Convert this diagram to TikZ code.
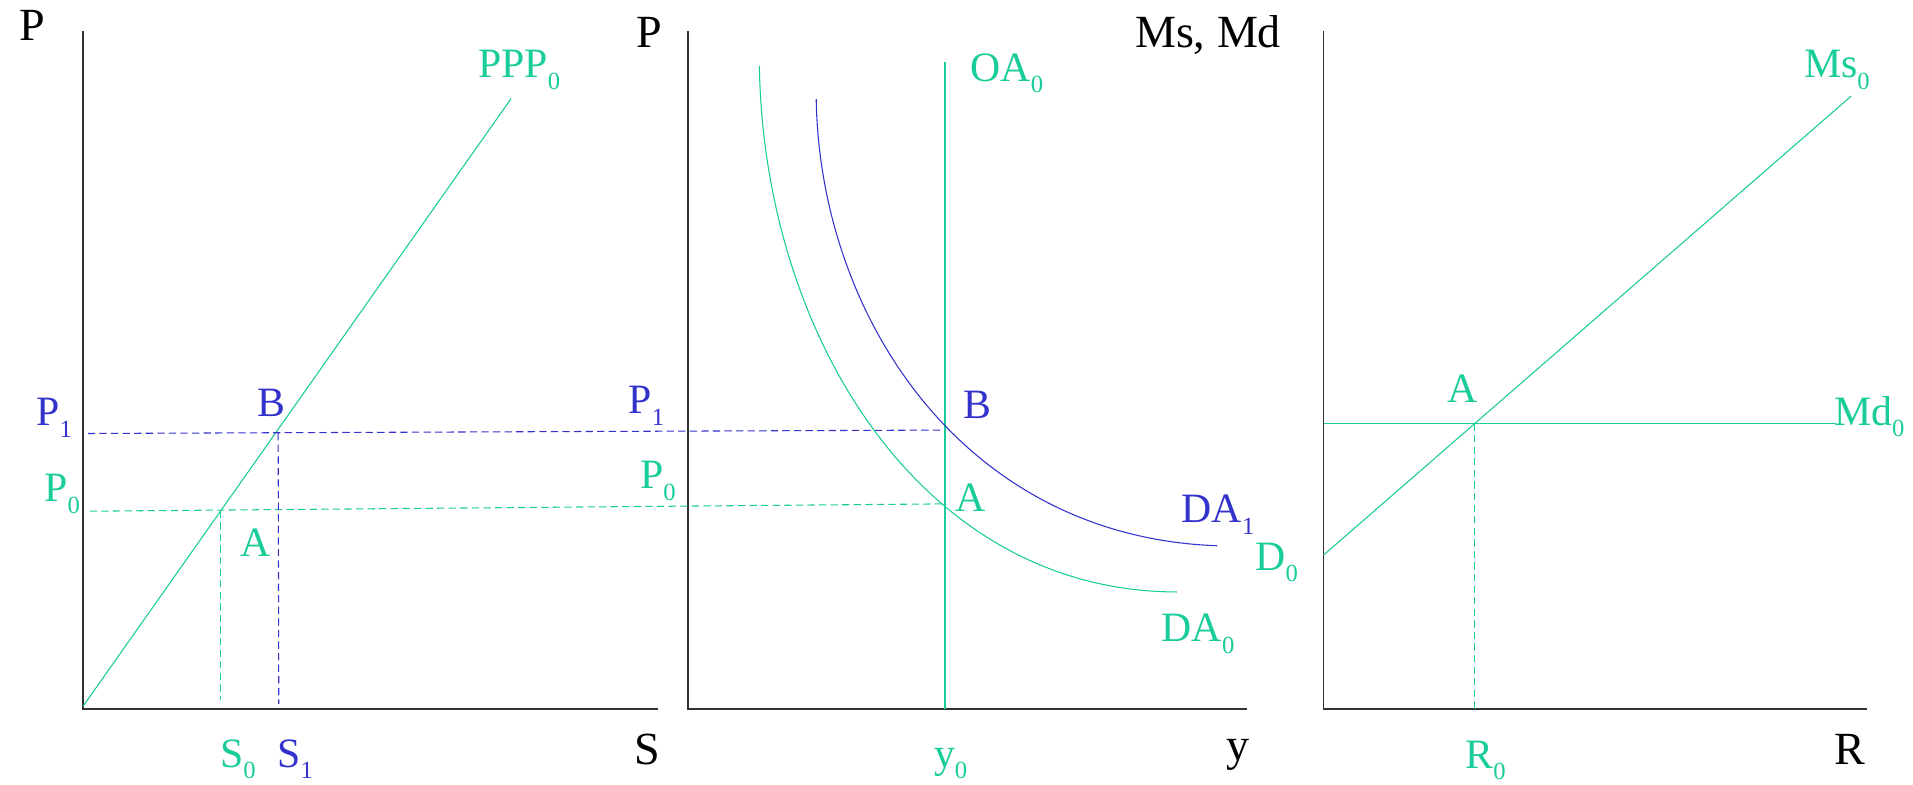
\documentclass[tikz,border=0pt]{standalone}
\usepackage{fontspec}
\setmainfont{Liberation Serif}
\definecolor{ecgreen}{RGB}{26,204,153}
\definecolor{ecblue}{RGB}{51,51,204}
\definecolor{ecaxis}{RGB}{51,51,51}
\newcommand{\lowidx}[1]{\raisebox{-5.4pt}{\fontsize{11.5}{12}\selectfont #1}}

\begin{document}
\begin{tikzpicture}[
  x=0.02cm, y=-0.02cm,
  axisline/.style={draw=ecaxis, line width=0.7pt},
  curve/.style={line width=0.5pt},
  guide/.style={line width=0.5pt, dash pattern=on 3.4pt off 2pt},
  lbl/.style={anchor=base west, inner sep=0pt, font=\fontsize{19.5}{23}\selectfont},
  axlbl/.style={anchor=base west, inner sep=0pt, font=\fontsize{21.5}{25}\selectfont, text=black}
]
\useasboundingbox (0,0) rectangle (1568,643);

% axes
\coordinate (t1) at (68,25);   \coordinate (o1) at (68,581);   \coordinate (r1) at (539,581);
\coordinate (t2) at (564,25);  \coordinate (o2) at (564,581);  \coordinate (r2) at (1022,581);
\coordinate (t3) at (1085,25); \coordinate (o3) at (1085,581); \coordinate (r3) at (1530,581);
\draw[axisline] (t1) -- (o1) -- (r1);
\draw[axisline] (t2) -- (o2) -- (r2);
\draw[axisline] (t3) -- (o3) -- (r3);

\node[axlbl] (pax1) at (16,33)   {P};
\node[axlbl] (sax)  at (520,627) {S};
\node[axlbl] (pax2) at (521,39)  {P};
\node[axlbl] (yax)  at (1005,623) {y};
\node[axlbl] (mmax) at (930,39)  {Ms, Md};
\node[axlbl] (rax)  at (1503,627) {R};

% left panel
\coordinate (ppplo) at (68,579);
\coordinate (ppphi) at (419,80.7);
\draw[curve, ecgreen] (ppplo) -- (ppphi);

\coordinate (p1l) at (72,355.3);
\coordinate (p0l) at (73.6,419);
\coordinate (bmid) at (774.7,352.5);
\coordinate (amid) at (774.7,413);
\draw[guide, ecblue]  (p1l) -- (bmid);
\draw[guide, ecgreen] (p0l) -- (amid);

\coordinate (s0t) at (180.7,418.6); \coordinate (s0b) at (180.7,574);
\coordinate (s1t) at (228,355);     \coordinate (s1b) at (228.5,577);
\draw[guide, ecgreen] (s0t) -- (s0b);
\draw[guide, ecblue]  (s1t) -- (s1b);

\node[lbl, text=ecgreen] (ppp)  at (391.6,63.5) {PPP\lowidx{0}};
\node[lbl, text=ecblue]  (p1a)  at (29.5,349)   {P\lowidx{1}};
\node[lbl, text=ecgreen] (p0a)  at (36,411)     {P\lowidx{0}};
\node[lbl, text=ecblue]  (b1)   at (211,341)    {B};
\node[lbl, text=ecgreen] (a1)   at (197,456)    {A};
\node[lbl, text=ecgreen] (s0)   at (180,629)    {S\lowidx{0}};
\node[lbl, text=ecblue]  (s1)   at (227,629)    {S\lowidx{1}};

% middle panel
\coordinate (oatop) at (774.6,51);
\coordinate (oabot) at (774.6,581);
\draw[curve, ecgreen, line width=0.7pt] (oatop) -- (oabot);

\coordinate (da0s) at (622.4,53.9);
\coordinate (da0e) at (964.6,485.2);
\coordinate (da1s) at (669,81.3);
\coordinate (da1e) at (997.6,447.3);
\draw[curve, ecgreen] (da0s) .. controls (626,275) and (755,485) .. (da0e);
\draw[curve, ecblue]  (da1s) .. controls (672,260) and (790,440) .. (da1e);

\node[lbl, text=ecgreen] (oa)   at (795.2,66.4) {OA\lowidx{0}};
\node[lbl, text=ecblue]  (b2)   at (789,343.4)  {B};
\node[lbl, text=ecgreen] (a2)   at (783,419)    {A};
\node[lbl, text=ecblue]  (p1b)  at (515,339)    {P\lowidx{1}};
\node[lbl, text=ecgreen] (p0b)  at (524.4,400.8) {P\lowidx{0}};
\node[lbl, text=ecblue]  (da1)  at (968.3,428.3) {DA\lowidx{1}};
\node[lbl, text=ecgreen] (d0)   at (1028.7,467.2) {D\lowidx{0}};
\node[lbl, text=ecgreen] (da0)  at (951.8,525.8) {DA\lowidx{0}};
\node[lbl, text=ecgreen] (y0)   at (765.2,629)  {y\lowidx{0}};

% right panel
\coordinate (mslo) at (1084.8,455);
\coordinate (mshi) at (1517.4,78.7);
\coordinate (mdl)  at (1085,347.1);
\coordinate (mdr)  at (1505,347.1);
\coordinate (a3t)  at (1208.5,347.1);
\coordinate (a3b)  at (1208.5,581);
\draw[curve, ecgreen] (mslo) -- (mshi);
\draw[curve, ecgreen] (mdl) -- (mdr);
\draw[guide, ecgreen] (a3t) -- (a3b);

\node[lbl, text=ecgreen] (ms0) at (1478.3,63.5) {Ms\lowidx{0}};
\node[lbl, text=ecgreen] (md0) at (1503,348.4)  {Md\lowidx{0}};
\node[lbl, text=ecgreen] (a3)  at (1185.8,330)  {A};
\node[lbl, text=ecgreen] (r0)  at (1200.8,629.5) {R\lowidx{0}};
\end{tikzpicture}
\end{document}
